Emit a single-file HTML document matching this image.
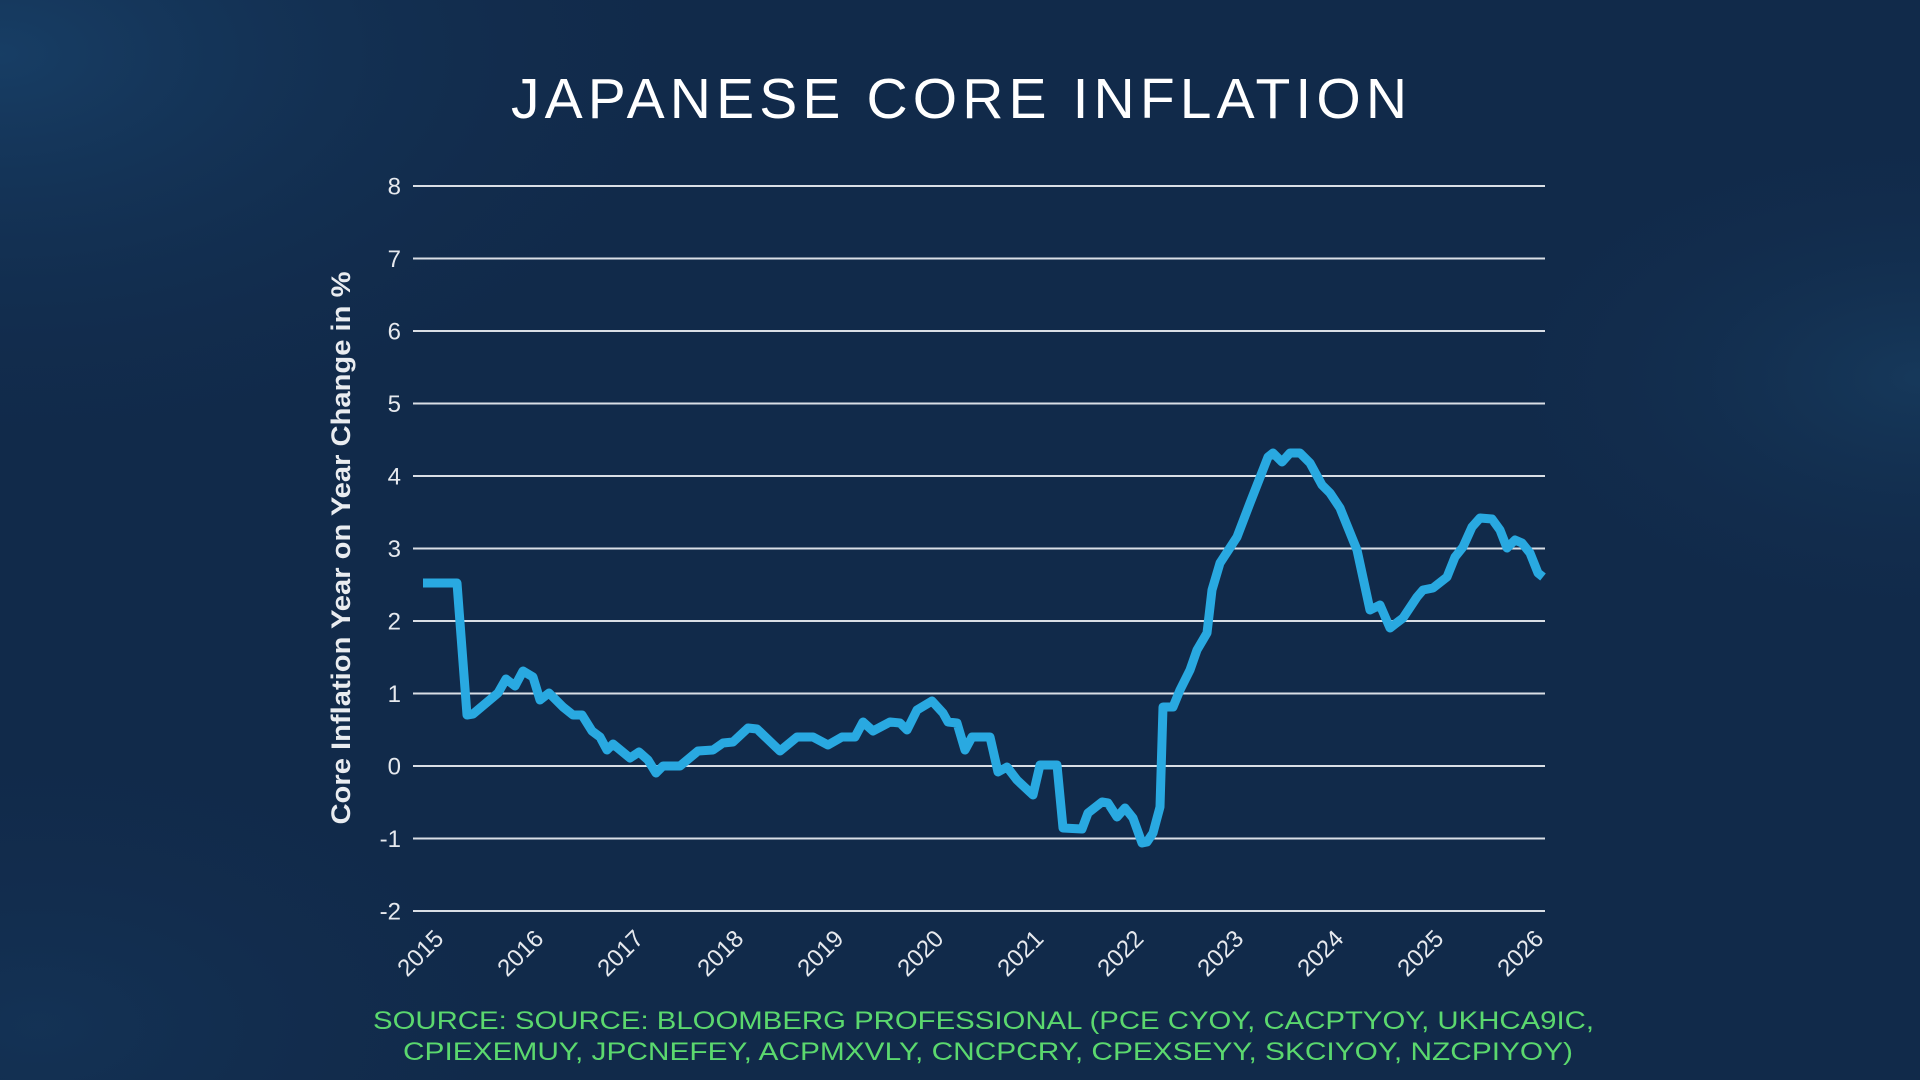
<!DOCTYPE html>
<html>
<head>
<meta charset="utf-8">
<style>
html,body{margin:0;padding:0;width:1920px;height:1080px;overflow:hidden;background:#112a4a;}
svg{display:block;}
</style>
</head>
<body>
<svg width="1920" height="1080" viewBox="0 0 1920 1080" xmlns="http://www.w3.org/2000/svg">
  <defs>
    <radialGradient id="g1" cx="0" cy="0.05" r="0.4">
      <stop offset="0" stop-color="#1a4670" stop-opacity="0.7"/>
      <stop offset="1" stop-color="#112a4a" stop-opacity="0"/>
    </radialGradient>
    <radialGradient id="g2" cx="1" cy="0.35" r="0.25">
      <stop offset="0" stop-color="#1a4468" stop-opacity="0.55"/>
      <stop offset="1" stop-color="#112a4a" stop-opacity="0"/>
    </radialGradient>
    <radialGradient id="g3" cx="0.02" cy="0.95" r="0.3">
      <stop offset="0" stop-color="#163a60" stop-opacity="0.5"/>
      <stop offset="1" stop-color="#112a4a" stop-opacity="0"/>
    </radialGradient>
  </defs>
  <rect width="1920" height="1080" fill="#112a4a"/>
  <rect width="1920" height="1080" fill="url(#g1)"/>
  <rect width="1920" height="1080" fill="url(#g2)"/>
  <rect width="1920" height="1080" fill="url(#g3)"/>

  <!-- Title -->
  <text x="511" y="118" font-family="Liberation Sans, sans-serif" font-size="57" fill="#ffffff" textLength="896" lengthAdjust="spacing">JAPANESE CORE INFLATION</text>

  <!-- Gridlines -->
  <g stroke="#d9dee5" stroke-width="2">
    <line x1="413" y1="186" x2="1545" y2="186"/>
    <line x1="413" y1="258.5" x2="1545" y2="258.5"/>
    <line x1="413" y1="331" x2="1545" y2="331"/>
    <line x1="413" y1="403.5" x2="1545" y2="403.5"/>
    <line x1="413" y1="476" x2="1545" y2="476"/>
    <line x1="413" y1="548.5" x2="1545" y2="548.5"/>
    <line x1="413" y1="621" x2="1545" y2="621"/>
    <line x1="413" y1="693.5" x2="1545" y2="693.5"/>
    <line x1="413" y1="766" x2="1545" y2="766"/>
    <line x1="413" y1="838.5" x2="1545" y2="838.5"/>
    <line x1="413" y1="911" x2="1545" y2="911"/>
  </g>

  <!-- Y tick labels -->
  <g font-family="Liberation Sans, sans-serif" font-size="24" fill="#e6e9ee" text-anchor="end">
    <text x="401" y="194.5">8</text>
    <text x="401" y="267">7</text>
    <text x="401" y="339.5">6</text>
    <text x="401" y="412">5</text>
    <text x="401" y="484.5">4</text>
    <text x="401" y="557">3</text>
    <text x="401" y="629.5">2</text>
    <text x="401" y="702">1</text>
    <text x="401" y="774.5">0</text>
    <text x="401" y="847">-1</text>
    <text x="401" y="919.5">-2</text>
  </g>

  <!-- Y axis title -->
  <text transform="translate(350,548) rotate(-90)" x="0" y="0" text-anchor="middle" font-family="Liberation Sans, sans-serif" font-weight="bold" font-size="27" fill="#e9ecf0" textLength="553" lengthAdjust="spacingAndGlyphs">Core Inflation Year on Year Change in %</text>

  <!-- X tick labels -->
  <g font-family="Liberation Sans, sans-serif" font-size="24" fill="#e6e9ee" text-anchor="end">
    <text transform="translate(445,940) rotate(-45)">2015</text>
    <text transform="translate(545,940) rotate(-45)">2016</text>
    <text transform="translate(645,940) rotate(-45)">2017</text>
    <text transform="translate(745,940) rotate(-45)">2018</text>
    <text transform="translate(845,940) rotate(-45)">2019</text>
    <text transform="translate(945,940) rotate(-45)">2020</text>
    <text transform="translate(1045,940) rotate(-45)">2021</text>
    <text transform="translate(1145,940) rotate(-45)">2022</text>
    <text transform="translate(1245,940) rotate(-45)">2023</text>
    <text transform="translate(1345,940) rotate(-45)">2024</text>
    <text transform="translate(1445,940) rotate(-45)">2025</text>
    <text transform="translate(1545,940) rotate(-45)">2026</text>
  </g>

  <!-- Data line -->
  <polyline fill="none" stroke="#29a9e1" stroke-width="9" stroke-linejoin="round" stroke-linecap="butt"
    points="423,583 457,583 467,715 473,714 498,693 506,679 515,686 523,671 533,677 540,700 549,693 563,707 573,715 582,715 592,731 600,737 607,750 613,744 630,758 639,752 648,760 656,773 663,766 680,766 698,751 713,750 723,743 733,742 748,728 757,729 780,751 797,737 813,737 828,745 842,737 855,737 863,722 873,731 890,722 900,723 907,730 917,710 932,701 943,713 948,722 957,723 965,750 972,737 990,737 998,772 1007,767 1017,780 1033,795 1040,765 1057,765 1063,828 1082,829 1088,813 1102,802 1108,803 1117,817 1125,808 1133,818 1142,843 1147,842 1153,833 1160,807 1163,707 1173,707 1180,690 1190,670 1197,650 1207,633 1212,590 1220,563 1237,537 1250,503 1268,457 1273,453 1282,462 1290,453 1300,453 1310,463 1322,485 1330,493 1340,508 1357,550 1370,610 1380,605 1390,628 1403,618 1417,597 1423,590 1433,588 1447,577 1455,557 1463,547 1472,527 1480,518 1492,519 1500,530 1507,548 1515,540 1522,543 1530,553 1538,573 1543,577"/>

  <!-- Source -->
  <g font-family="Liberation Sans, sans-serif" font-size="25" fill="#5bd86e">
    <text x="373" y="1029" textLength="1221" lengthAdjust="spacingAndGlyphs">SOURCE: SOURCE: BLOOMBERG PROFESSIONAL (PCE CYOY, CACPTYOY, UKHCA9IC,</text>
    <text x="403" y="1060" textLength="1170" lengthAdjust="spacingAndGlyphs">CPIEXEMUY, JPCNEFEY, ACPMXVLY, CNCPCRY, CPEXSEYY, SKCIYOY, NZCPIYOY)</text>
  </g>
</svg>
</body>
</html>
